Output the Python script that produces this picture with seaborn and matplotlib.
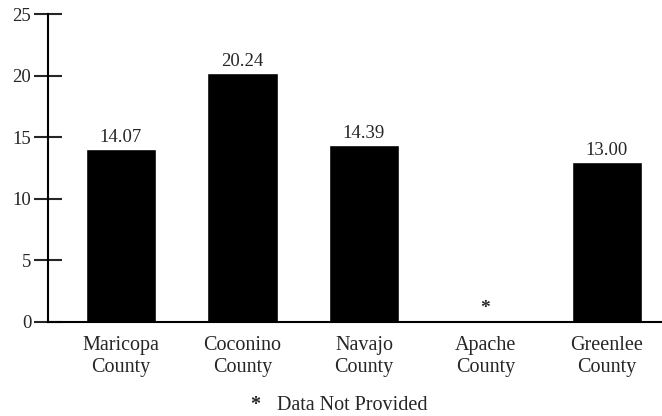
import numpy as np
import pandas as pd
import matplotlib
matplotlib.use("Agg")
import matplotlib.pyplot as plt
import seaborn as sns

counties = ["Maricopa\nCounty", "Coconino\nCounty", "Navajo\nCounty", "Apache\nCounty", "Greenlee\nCounty"]
values = [14.07, 20.24, 14.39, np.nan, 13.00]
yticks = [0, 5, 10, 15, 20, 25]
missing_mark = 1.1  # where the asterisk sits for missing data

sns.set_style("white")
plt.rcParams["font.family"] = ["Liberation Serif", "DejaVu Serif"]

df = pd.DataFrame({"county": counties, "value": values})

fig = plt.figure(figsize=(6.62, 4.16), dpi=100)
ax = fig.add_axes([0.0725, 0.226, 0.927, 0.74])

sns.barplot(data=df, x="county", y="value", order=counties, color="black",
            width=0.58, saturation=1, ax=ax)

for i, v in enumerate(values):
    if np.isnan(v):
        ax.text(i, missing_mark, "*", ha="center", va="center", fontsize=14, fontweight="bold")
    else:
        ax.text(i, v + 0.2, f"{v:.2f}", ha="center", va="bottom", fontsize=13.5)

ax.set_xlim(-0.6, 4.45)
ax.set_ylim(0, 25)
ax.set_yticks(yticks)
ax.set_xlabel("")
ax.set_ylabel("")
for s in ["top", "right"]:
    ax.spines[s].set_visible(False)
for s in ["left", "bottom"]:
    ax.spines[s].set_linewidth(1.5)
    ax.spines[s].set_color("black")
ax.tick_params(axis="y", direction="inout", length=20, width=1.5, labelsize=13.5, pad=2, left=True)
ax.tick_params(axis="x", length=0, labelsize=14.5, pad=10)
for lab in ax.get_xticklabels():
    lab.set_linespacing(1.2)

fig.text(0.386, 0.0144, "*", ha="center", va="baseline", fontsize=14.5, fontweight="bold")
fig.text(0.418, 0.0144, "Data Not Provided", ha="left", va="baseline", fontsize=14.5)

fig.savefig("out.png", dpi=100)
